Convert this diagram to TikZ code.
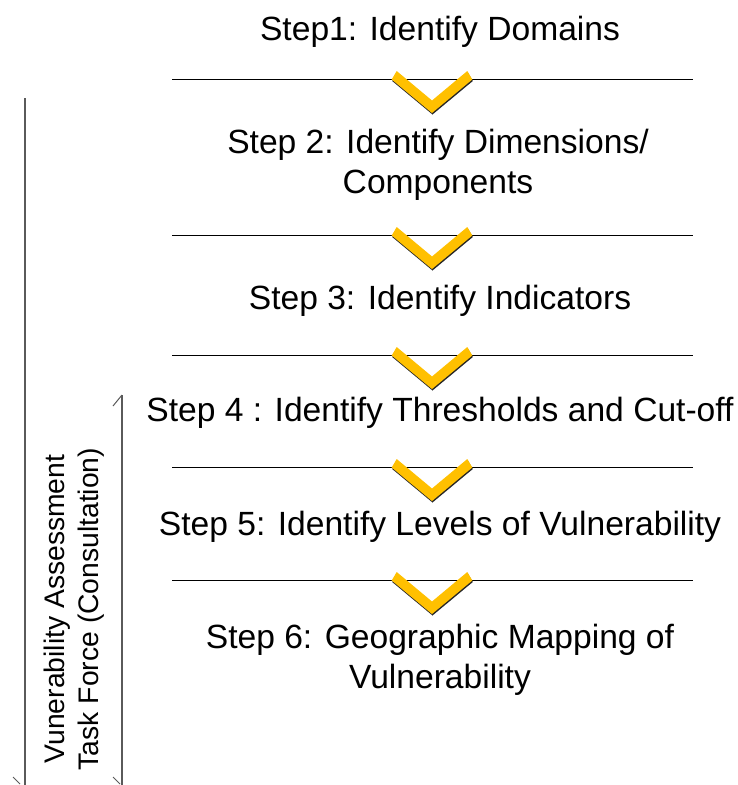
\documentclass[tikz,border=0pt]{standalone}
\usepackage{fontspec}
\setmainfont{Liberation Sans}
\usepackage{xcolor}
\definecolor{chevyellow}{RGB}{255,192,0}
\definecolor{bargray}{RGB}{90,90,90}

\tikzset{
  stepnode/.style={align=center,inner sep=0pt,font=\fontsize{33.6}{40}\selectfont},
  sideline/.style={draw=bargray,line width=1.4pt},
  sepline/.style={line width=0.9pt},
  % yellow V between two steps, with a thin dark shadow
  chevron/.pic={
    \fill[black!85] (-34.8,-6.5) -- (0.5,23) -- (35.8,-6.5) -- (40.8,2) -- (0.5,35.5) -- (-39.8,2) -- cycle;
    \fill[chevyellow] (-35.3,-8) -- (0,21.5) -- (35.3,-8) -- (40.3,0.5) -- (0,34) -- (-40.3,0.5) -- cycle;
  }
}

\begin{document}
\begin{tikzpicture}[x=1pt,y=-1pt]
  \useasboundingbox (0,0) rectangle (738,785);

  \node[stepnode,anchor=base] (s1) at (440,40)  {Step1: Identify Domains};
  \node[stepnode] (s2) at (438,165) {Step 2: Identify Dimensions/\\Components};
  \node[stepnode,anchor=base] (s3) at (440,309) {Step 3: Identify Indicators};
  \node[stepnode,anchor=base] (s4) at (440,421) {Step 4 : Identify Thresholds and Cut-off};
  \node[stepnode,anchor=base] (s5) at (440,535) {Step 5: Identify Levels of Vulnerability};
  \node[stepnode] (s6) at (440,660) {Step 6: Geographic Mapping of\\Vulnerability};

  % separators with the chevrons on top
  \foreach \y [count=\i] in {79,235,355,467,580} {
    \coordinate (l\i) at (172,\y);
    \coordinate (r\i) at (693,\y);
    \draw[sepline] (l\i) -- (r\i);
    \pic at (432,\y) {chevron};
  }

  % brackets on the left
  \coordinate (a1) at (25,98);
  \coordinate (a2) at (25,785);
  \coordinate (b1) at (122,395);
  \coordinate (b2) at (122,785);
  \draw[sideline] (a1) -- (a2);
  \draw[sideline] (b1) -- (b2);
  \draw[sideline,line width=1pt] (13,777) -- (20,784);
  \draw[sideline,line width=1pt] (113,777) -- (120,784);
  \draw[sideline,line width=1pt] (b1) -- (113,406);

  \node[align=center,inner sep=0pt,rotate=90,font=\fontsize{28.3}{33.5}\selectfont] (task) at (74,609)
    {Vunerability Assessment\\Task Force (Consultation)};
\end{tikzpicture}
\end{document}
